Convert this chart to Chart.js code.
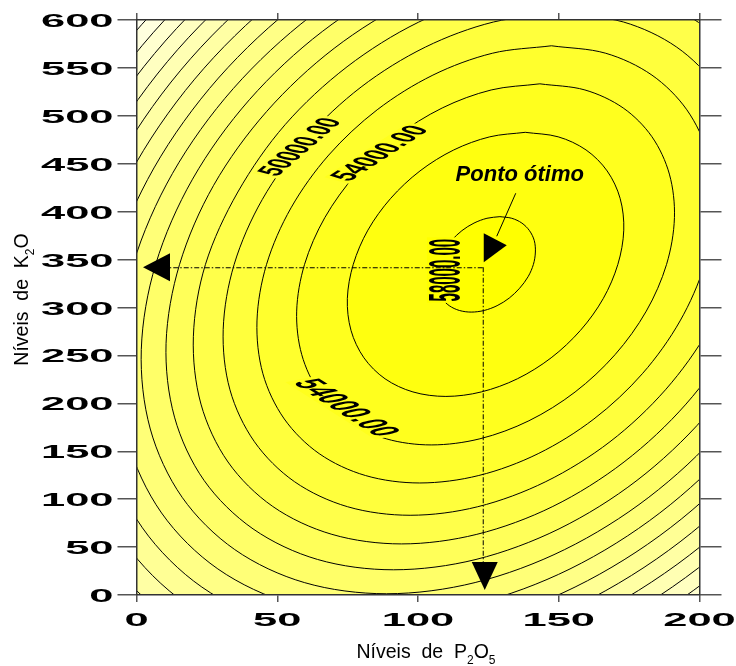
<!DOCTYPE html>
<html>
<head>
<meta charset="utf-8">
<script src="https://cdn.jsdelivr.net/npm/chart.js@4.4.1/dist/chart.umd.min.js"></script>
<style>
html, body { margin: 0; padding: 0; background: #ffffff; }
#chart { display: block; }
</style>
</head>
<body>
<canvas id="chart" width="736" height="666"></canvas>
<script>
// Yield contours (response surface) over P2O5 and K2O rates
const levels = [58000, 56000, 54000, 52000, 50000, 48000, 46000, 44000,
                42000, 40000, 38000, 36000, 34000, 32000, 30000, 28000];
const xTicks = [0, 50, 100, 150, 200];
const yTicks = [0, 50, 100, 150, 200, 250, 300, 350, 400, 450, 500, 550, 600];
const optimum = [123, 342];            // P2O5, K2O at the maximum
const labelledLevels = [50000, 54000, 54000, 58000];

// Contour paths, [P2O5, K2O] pairs, each closed loop
const c58000 = [[129.1,394.8],[124.5,393.1],[119.9,388.1],[115.6,380.2],[111.9,369.9],[108.9,357.9],[107.0,345],[106.3,332.1],[106.7,320.1],[108.4,309.8],[111.1,301.9],[114.7,296.9],[118.9,295.2],[123.5,296.9],[128.1,301.9],[132.4,309.8],[136.1,320.1],[139.1,332.1],[141.0,345],[141.7,357.9],[141.3,369.9],[139.6,380.2],[136.9,388.1],[133.3,393.1],[129.1,394.8]];
const c56000 = [[138.1,482.8],[125.5,478.1],[112.7,464.4],[100.7,442.5],[90.3,413.9],[82.2,380.7],[77.0,345],[74.9,309.3],[76.2,276.1],[80.8,247.5],[88.3,225.6],[98.2,211.9],[109.9,207.2],[122.5,211.9],[135.3,225.6],[147.3,247.5],[157.7,276.1],[165.8,309.3],[171.0,345],[173.1,380.7],[171.8,413.9],[167.2,442.5],[159.7,464.4],[149.8,478.1],[138.1,482.8]];
const c54000 = [[143.3,533.4],[126.0,527.0],[108.6,508.2],[92.2,478.2],[78.0,439.2],[66.9,393.8],[59.7,345],[56.9,296.2],[58.7,250.8],[64.9,211.8],[75.1,181.8],[88.7,163.0],[104.7,156.6],[122.0,163.0],[139.4,181.8],[155.8,211.8],[170.0,250.8],[181.1,296.2],[188.3,345],[191.1,393.8],[189.3,439.2],[183.1,478.2],[172.9,508.2],[159.3,527.0],[143.3,533.4]];
const c52000 = [[147.4,573.1],[126.4,565.3],[105.3,542.5],[85.5,506.3],[68.3,459.1],[54.9,404.0],[46.2,345],[42.8,286.0],[44.9,230.9],[52.5,183.7],[64.9,147.5],[81.3,124.7],[100.6,116.9],[121.6,124.7],[142.7,147.5],[162.5,183.7],[179.7,230.9],[193.1,286.0],[201.8,345],[205.2,404.0],[203.1,459.1],[195.5,506.3],[183.1,542.5],[166.7,565.3],[147.4,573.1]];
const c50000 = [[150.8,606.8],[126.8,597.9],[102.6,571.7],[79.8,530.1],[60.1,475.9],[44.7,412.8],[34.7,345],[30.8,277.2],[33.2,214.1],[41.9,159.9],[56.1,118.3],[75.0,92.1],[97.2,83.2],[121.2,92.1],[145.4,118.3],[168.2,159.9],[187.9,214.1],[203.3,277.2],[213.3,345],[217.2,412.8],[214.8,475.9],[206.1,530.1],[191.9,571.7],[173.0,597.9],[150.8,606.8]];
const c48000 = [[153.9,636.7],[127.1,626.7],[100.1,597.6],[74.8,551.2],[52.8,490.8],[36.0,420.5],[24.5,345],[20.2,269.5],[22.9,199.2],[32.5,138.8],[48.4,92.4],[69.4,63.3],[94.1,53.3],[120.9,63.3],[147.9,92.4],[173.2,138.8],[195.2,199.2],[212.4,269.5],[223.5,345],[227.8,420.5],[225.1,490.8],[215.5,551.2],[199.6,597.6],[178.6,626.7],[153.9,636.7]];
const c46000 = [[156.7,663.7],[127.4,652.9],[97.9,621.0],[70.2,570.4],[46.2,504.4],[27.4,427.5],[15.3,345],[10.5,262.5],[13.5,185.6],[24.0,119.6],[41.4,69.0],[64.3,37.1],[91.3,26.3],[120.6,37.1],[150.1,69.0],[177.8,119.6],[201.8,185.6],[220.6,262.5],[232.7,345],[237.5,427.5],[234.5,504.4],[224.0,570.4],[206.6,621.0],[183.7,652.9],[156.7,663.7]];
const c44000 = [[159.2,688.7],[127.7,677.0],[95.9,642.6],[66.0,588.0],[40.1,516.8],[19.9,433.9],[6.8,345],[1.7,256.1],[4.9,173.2],[16.2,102.0],[34.9,47.4],[59.6,13.0],[88.8,1.3],[120.3,13.0],[152.1,47.4],[182.0,102.0],[207.9,173.2],[226.8,256.1],[241.2,345],[246.3,433.9],[243.1,516.8],[231.8,588.0],[213.1,642.6],[188.4,677.0],[159.2,688.7]];
const c42000 = [[161.6,711.9],[127.9,699.4],[94.0,662.8],[62.1,604.4],[34.4,528.5],[12.8,440.0],[-1.2,345],[-6.6,250.0],[-3.2,161.5],[8.9,85.6],[28.9,27.2],[55.3,-9.4],[86.4,-21.9],[120.1,-9.4],[154.0,27.2],[185.9,85.6],[213.6,161.5],[235.2,250.0],[249.2,345],[254.6,440.0],[251.2,528.5],[239.1,604.4],[219.1,662.8],[192.7,699.4],[161.6,711.9]];
const c40000 = [[163.8,733.8],[128.1,720.5],[92.2,681.7],[58.4,619.9],[29.1,539.4],[6.2,445.6],[-8.6,345],[-14.4,244.4],[-10.8,150.6],[2.1,70.1],[23.2,8.3],[51.2,-30.5],[84.2,-43.8],[119.9,-30.5],[155.8,8.3],[189.6,70.1],[218.9,150.6],[241.8,244.4],[256.6,345],[262.4,445.6],[258.8,539.4],[245.9,619.9],[224.8,681.7],[196.8,720.5],[163.8,733.8]];
const c38000 = [[166.0,754.5],[128.4,740.5],[90.5,699.6],[54.9,634.5],[24.0,549.7],[-0.1,451.0],[-15.7,345],[-21.8,239.0],[-17.9,140.3],[-4.4,55.5],[17.8,-9.6],[47.3,-50.5],[82.0,-64.5],[119.6,-50.5],[157.5,-9.6],[193.1,55.5],[224.0,140.3],[248.1,239.0],[263.7,345],[269.8,451.0],[265.9,549.7],[252.4,634.5],[230.2,699.6],[200.7,740.5],[166.0,754.5]];
const c36000 = [[168.0,774.2],[128.6,759.5],[88.9,716.7],[51.6,648.5],[19.2,559.6],[-6.0,456.1],[-22.4,345],[-28.8,233.9],[-24.8,130.4],[-10.6,41.5],[12.7,-26.7],[43.6,-69.5],[80.0,-84.2],[119.4,-69.5],[159.1,-26.7],[196.4,41.5],[228.8,130.4],[254.0,233.9],[270.4,345],[276.8,456.1],[272.8,559.6],[258.6,648.5],[235.3,716.7],[204.4,759.5],[168.0,774.2]];
const c34000 = [[169.9,793.0],[128.8,777.7],[87.3,733.0],[48.4,661.8],[14.6,569.0],[-11.7,460.9],[-28.8,345],[-35.5,229.1],[-31.3,121.0],[-16.5,28.2],[7.8,-43.0],[40.1,-87.7],[78.1,-103.0],[119.2,-87.7],[160.7,-43.0],[199.6,28.2],[233.3,121.0],[259.7,229.1],[276.8,345],[283.5,460.9],[279.3,569.0],[264.5,661.8],[240.2,733.0],[207.9,777.7],[169.9,793.0]];
const c32000 = [[171.7,811.1],[129.0,795.2],[85.9,748.6],[45.3,674.6],[10.2,578.0],[-17.2,465.6],[-35.0,345],[-41.9,224.4],[-37.6,112.0],[-22.2,15.4],[3.2,-58.6],[36.7,-105.2],[76.3,-121.1],[119.0,-105.2],[162.1,-58.6],[202.7,15.4],[237.8,112.0],[265.2,224.4],[283.0,345],[289.9,465.6],[285.6,578.0],[270.2,674.6],[244.8,748.6],[211.3,795.2],[171.7,811.1]];
const c30000 = [[173.5,828.5],[129.2,812.0],[84.4,763.7],[42.4,686.9],[5.9,586.7],[-22.5,470.1],[-40.9,345],[-48.1,219.9],[-43.6,103.3],[-27.6,3.1],[-1.4,-73.7],[33.5,-122.0],[74.5,-138.5],[118.8,-122.0],[163.6,-73.7],[205.6,3.1],[242.1,103.3],[270.5,219.9],[288.9,345],[296.1,470.1],[291.6,586.7],[275.6,686.9],[249.4,763.7],[214.5,812.0],[173.5,828.5]];
const c28000 = [[175.3,845.3],[129.3,828.2],[83.1,778.2],[40.6,698.7],[1.8,595.1],[-27.2,474.5],[-46.6,345],[-54.1,215.5],[-49.4,94.9],[-32.9,-8.7],[-5.7,-88.2],[30.3,-138.2],[72.7,-155.3],[118.7,-138.2],[164.9,-88.2],[207.4,-8.7],[246.2,94.9],[275.2,215.5],[294.6,345],[302.1,474.5],[297.4,595.1],[280.9,698.7],[253.7,778.2],[217.7,828.2],[175.3,845.3]];

const contours = [c58000, c56000, c54000, c52000, c50000, c48000, c46000, c44000,
                  c42000, c40000, c38000, c36000, c34000, c32000, c30000, c28000];

// ---- styling ----
const FONT = '"Liberation Sans", Arial, sans-serif';
const bandCount = levels.length + 1;
function bandColor(band) {
  const blue = Math.round(238 * (1 - band / (bandCount - 1)));
  return 'rgb(255,255,' + blue + ')';
}
function bandOfLevel(level) {            // band just above a level
  return levels.length - levels.indexOf(level);
}

// where each contour label sits, its turn (before the stretch) and its horizontal stretch
const labelPlacement = [
  { x: 58.1, y: 467.5, angle: -63.1, stretch: 2.3 },
  { x: 86.5, y: 461.0, angle: -57.4, stretch: 2.4 },
  { x: 74.5, y: 195.5, angle: 60.8, stretch: 2.8 },
  { x: 110.1, y: 339.0, angle: -90, stretch: 3.0 }
];
const TICK_STRETCH = 2.35;

const datasets = levels.map((lv, i) => ({
  label: lv.toFixed(2),
  data: contours[i],
  borderColor: '#000000',
  borderWidth: 1,
  backgroundColor: bandColor(bandOfLevel(lv)),
  fill: 'shape',
  tension: 0.33,
  pointRadius: 0,
  clip: 0
}));

const areaBackground = {
  id: 'areaBackground',
  beforeDatasetsDraw(chart) {
    const { ctx, chartArea: a } = chart;
    ctx.save();
    ctx.fillStyle = bandColor(0);
    ctx.fillRect(a.left, a.top, a.right - a.left, a.bottom - a.top);
    ctx.restore();
  }
};

function arrowHead(ctx, tip, b1, b2) {
  ctx.beginPath();
  ctx.moveTo(tip[0], tip[1]);
  ctx.lineTo(b1[0], b1[1]);
  ctx.lineTo(b2[0], b2[1]);
  ctx.closePath();
  ctx.fill();
}

const annotations = {
  id: 'annotations',
  afterDatasetsDraw(chart) {
    const { ctx, chartArea: a, scales: { x, y } } = chart;
    ctx.save();
    ctx.beginPath();
    ctx.rect(a.left, a.top, a.right - a.left, a.bottom - a.top);
    ctx.clip();

    // contour value labels
    labelledLevels.forEach((lv, i) => {
      const p = labelPlacement[i];
      const px = x.getPixelForValue(p.x), py = y.getPixelForValue(p.y);
      const text = lv.toFixed(2);
      ctx.save();
      ctx.translate(px, py);
      ctx.scale(p.stretch, 1);
      ctx.rotate(p.angle * Math.PI / 180);
      ctx.font = 'bold 15px ' + FONT;
      const w = ctx.measureText(text).width;
      ctx.fillStyle = bandColor(bandOfLevel(lv));
      ctx.fillRect(-w / 2 - 1.5, -6.5, w + 3, 13);
      ctx.fillStyle = '#000';
      ctx.textAlign = 'center';
      ctx.textBaseline = 'middle';
      ctx.fillText(text, 0, 0.5);
      ctx.restore();
    });

    // guides from the optimum to both axes
    const ox = x.getPixelForValue(optimum[0]);
    const oy = y.getPixelForValue(optimum[1]);
    const leftTip = x.getPixelForValue(xTicks[0]) + 6.5;
    const bottomTip = y.getPixelForValue(yTicks[0]) - 5;
    ctx.strokeStyle = '#000';
    ctx.lineWidth = 1;
    ctx.setLineDash([5, 2, 1.5, 2]);
    ctx.beginPath();
    ctx.moveTo(ox, oy + 0.5);
    ctx.lineTo(leftTip + 26, oy + 0.5);
    ctx.moveTo(ox + 0.5, oy);
    ctx.lineTo(ox + 0.5, bottomTip - 26);
    ctx.stroke();
    ctx.setLineDash([]);
    ctx.fillStyle = '#000';
    arrowHead(ctx, [leftTip, oy], [leftTip + 27, oy - 14], [leftTip + 27, oy + 14]);
    arrowHead(ctx, [ox + 2, bottomTip], [ox - 11, bottomTip - 28], [ox + 15, bottomTip - 28]);

    // pointer from the caption to the optimum
    ctx.beginPath();
    ctx.moveTo(ox + 33, oy - 74);
    ctx.lineTo(ox + 14, oy - 31);
    ctx.stroke();
    arrowHead(ctx, [ox + 1, oy - 5], [ox + 24, oy - 22], [ox + 1, oy - 34]);

    ctx.font = 'italic bold 22px ' + FONT;
    ctx.textAlign = 'center';
    ctx.textBaseline = 'alphabetic';
    ctx.fillText('Ponto ótimo', ox + 37, oy - 86);
    ctx.restore();
  }
};

function drawRich(ctx, parts, size, cx, baseline) {
  const sub = Math.round(size * 0.62);
  let total = 0;
  const widths = parts.map(p => {
    ctx.font = (p.sub ? sub : size) + 'px ' + FONT;
    const w = ctx.measureText(p.t).width;
    total += w;
    return w;
  });
  let cur = cx - total / 2;
  parts.forEach((p, i) => {
    ctx.font = (p.sub ? sub : size) + 'px ' + FONT;
    ctx.fillText(p.t, cur, baseline + (p.sub ? size * 0.3 : 0));
    cur += widths[i];
  });
}

const axisText = {
  id: 'axisText',
  afterDraw(chart) {
    const { ctx, chartArea: a, scales: { x, y } } = chart;
    ctx.save();
    ctx.fillStyle = '#000';
    ctx.font = 'bold 18.5px ' + FONT;
    ctx.textBaseline = 'alphabetic';
    x.ticks.forEach(t => {
      const px = x.getPixelForValue(t.value);
      ctx.save();
      ctx.translate(px, a.bottom + 31);
      ctx.scale(TICK_STRETCH, 1);
      ctx.textAlign = 'center';
      ctx.fillText(String(t.value), 0, 0);
      ctx.restore();
    });
    y.ticks.forEach(t => {
      const py = y.getPixelForValue(t.value);
      ctx.save();
      ctx.translate(a.left - 23, py + 7);
      ctx.scale(TICK_STRETCH, 1);
      ctx.textAlign = 'right';
      ctx.fillText(String(t.value), 0, 0);
      ctx.restore();
    });

    ctx.textAlign = 'left';
    drawRich(ctx, [{ t: 'Níveis  de  P' }, { t: '2', sub: true }, { t: 'O' }, { t: '5', sub: true }],
      19.5, (a.left + a.right) / 2 + 8, a.bottom + 63);
    ctx.save();
    ctx.translate(28, (a.top + a.bottom) / 2 - 8);
    ctx.rotate(-Math.PI / 2);
    drawRich(ctx, [{ t: 'Níveis  de  K' }, { t: '2', sub: true }, { t: 'O' }], 19.5, 0, 0);
    ctx.restore();
    ctx.restore();
  }
};

function axis(position, ticks, tickLength, size) {
  const horizontal = position === 'top' || position === 'bottom';
  return {
    type: 'linear',
    position,
    min: ticks[0],
    max: ticks[ticks.length - 1],
    afterBuildTicks: s => { s.ticks = ticks.map(v => ({ value: v })); },
    afterFit: s => { if (horizontal) s.height = size; else s.width = size; },
    ticks: { display: false },
    grid: { display: true, drawOnChartArea: false, drawTicks: true, tickLength,
            color: '#555555', lineWidth: 1.5 },
    border: { display: true, color: '#333333', width: 1.5, z: 1 }
  };
}

new Chart(document.getElementById('chart'), {
  type: 'line',
  data: { datasets },
  options: {
    responsive: false,
    animation: false,
    events: [],
    layout: { padding: 0 },
    elements: { line: { capBezierPoints: false } },
    plugins: { legend: { display: false }, tooltip: { enabled: false }, title: { display: false } },
    scales: {
      x: axis('bottom', xTicks, 7, 71),
      x2: axis('top', xTicks, 7, 20),
      y: axis('left', yTicks, 19, 136.5),
      y2: axis('right', yTicks, 22, 36.5)
    }
  },
  plugins: [areaBackground, annotations, axisText]
});
</script>
</body>
</html>
